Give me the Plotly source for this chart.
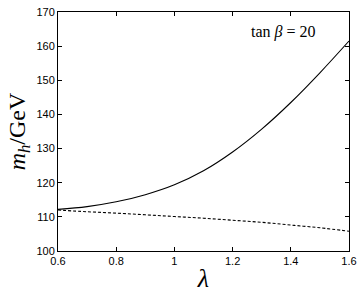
import plotly.graph_objects as go

lam = [0.6, 0.7, 0.8, 0.9, 1.0, 1.1, 1.2, 1.3, 1.4, 1.5, 1.6]
mh_solid = [112.2, 113.0, 114.4, 116.5, 119.4, 123.5, 129.0, 135.7, 143.5, 152.2, 161.5]
mh_dashed = [112.0, 111.5, 111.1, 110.6, 110.1, 109.6, 109.0, 108.4, 107.6, 106.8, 105.8]

x_ticks = [0.6, 0.8, 1.0, 1.2, 1.4, 1.6]
x_ticklabels = ["0.6", "0.8", "1", "1.2", "1.4", "1.6"]
y_ticks = [100, 110, 120, 130, 140, 150, 160, 170]

fig = go.Figure()
fig.add_trace(go.Scatter(x=lam, y=mh_solid, mode="lines",
                         line=dict(color="black", width=1.1, shape="spline"),
                         showlegend=False))
fig.add_trace(go.Scatter(x=lam, y=mh_dashed, mode="lines",
                         line=dict(color="black", width=1.1, dash="3px,2px", shape="spline"),
                         showlegend=False))

axis_common = dict(showline=True, linecolor="black", linewidth=1, mirror="ticks",
                   ticks="inside", ticklen=4, tickcolor="black", tickwidth=1,
                   showgrid=False, zeroline=False,
                   tickfont=dict(family="Liberation Sans, Arial", size=11, color="black"))

fig.update_xaxes(range=[0.6, 1.6], tickvals=x_ticks, ticktext=x_ticklabels,
                 title=dict(text="<i>λ</i>", font=dict(family="Liberation Serif", size=26, color="black"),
                            standoff=2),
                 **axis_common)
fig.update_yaxes(range=[100, 170], tickvals=y_ticks,
                 title=dict(text="<i>m</i><sub><i>h</i></sub>/GeV",
                            font=dict(family="Liberation Serif", size=24, color="black"),
                            standoff=4),
                 **axis_common)

fig.add_annotation(x=0.895, y=0.916, xref="paper", yref="paper", xanchor="right", yanchor="middle",
                   text="tan <i>β</i> = 20", showarrow=False,
                   font=dict(family="Liberation Serif", size=16, color="black"))

fig.update_layout(width=363, height=293, margin=dict(l=58, r=10, t=6, b=37),
                  plot_bgcolor="white", paper_bgcolor="white")

fig.write_html("out.html", config={"displayModeBar": False},
               post_script="document.body.style.margin='0';")
